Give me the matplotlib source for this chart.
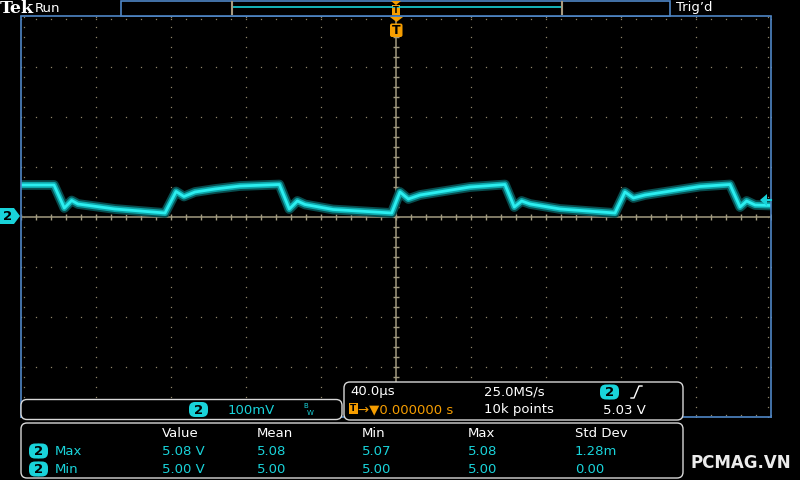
import numpy as np
import matplotlib.pyplot as plt
from matplotlib.patches import FancyBboxPatch, Polygon, Rectangle

# channel 2 trace: time (us) and voltage (V)
t_us = [-200, -182.4, -176.9, -173.0, -169.6, -149.9, -123.2, -117.3, -113.1, -107.2,
        -96.5, -83.2, -62.2, -56.9, -52.6, -48.5, -33.6, -2.3, 2.1, 6.6,
        12.8, 39.5, 58.1, 63.1, 67.0, 71.5, 87.5, 116.8, 122.1, 126.6,
        132.8, 162.1, 178.1, 183.5, 187.0, 191.5, 200]
volts = [5.063, 5.063, 5.017, 5.032, 5.025, 5.015, 5.007, 5.050, 5.040, 5.049,
         5.055, 5.061, 5.064, 5.015, 5.031, 5.024, 5.014, 5.007, 5.049, 5.035,
         5.043, 5.059, 5.064, 5.019, 5.031, 5.025, 5.015, 5.007, 5.049, 5.037,
         5.043, 5.060, 5.064, 5.019, 5.031, 5.023, 5.022]

trig_level = 5.03
headers = ['Value', 'Mean', 'Min', 'Max', 'Std Dev']
row_names = ['Max', 'Min']
row_vals = [['5.08 V', '5.08', '5.07', '5.08', '1.28m'],
            ['5.00 V', '5.00', '5.00', '5.00', '0.00']]

CYAN = '#19d3da'
ORANGE = '#f59d00'
BLUE = '#4f86c6'
GRID = '#8f8468'
CROSS = '#a39b80'

fig = plt.figure(figsize=(8, 4.8), dpi=100, facecolor='black')
ax = fig.add_axes([21/800, (480-416.5)/480, 750/800, 400/480])
ax.set_facecolor('black')
ax.set_xlim(-200, 200)
ax.set_ylim(4.6, 5.4)
ax.set_xticks([])
ax.set_yticks([])
for s in ax.spines.values():
    s.set_color(BLUE)
    s.set_linewidth(1.2)

# dotted graticule
for x in np.arange(-160, 161, 40):
    if x == 0:
        continue
    yy = np.arange(4.6, 5.401, 0.02)
    ax.plot([x]*len(yy), yy, ls='none', marker='s', ms=0.9, color=GRID, mew=0)
for y in np.arange(4.7, 5.31, 0.1):
    if abs(y - 5.0) < 1e-6:
        continue
    xx = np.arange(-200, 200.1, 8)
    ax.plot(xx, [y]*len(xx), ls='none', marker='s', ms=0.9, color=GRID, mew=0)

# center crosshair with minor ticks
ax.axhline(5.0, color=CROSS, lw=1.1)
ax.axvline(0, color=CROSS, lw=1.1)
xx = np.arange(-200, 200.1, 8)
ax.plot(xx, [5.0]*len(xx), ls='none', marker='|', ms=5, color=CROSS, mew=1)
yy = np.arange(4.6, 5.401, 0.02)
ax.plot([0]*len(yy), yy, ls='none', marker='_', ms=5, color=CROSS, mew=1)
# edge ticks
ax.plot(xx, [5.396]*len(xx), ls='none', marker='s', ms=0.9, color=GRID, mew=0)
ax.plot(xx, [4.604]*len(xx), ls='none', marker='s', ms=0.9, color=GRID, mew=0)
ax.plot([198.5]*len(yy), yy, ls='none', marker='s', ms=0.9, color=GRID, mew=0)
ax.plot([-198.5]*len(yy), yy, ls='none', marker='s', ms=0.9, color=GRID, mew=0)

# trace with phosphor glow
ax.plot(t_us, volts, color='#084c4e', lw=7.0, solid_joinstyle='round')
ax.plot(t_us, volts, color='#0ea5a9', lw=4.4, solid_joinstyle='round')
ax.plot(t_us, volts, color='#2ceef0', lw=2.0, solid_joinstyle='round')

# overlay in pixel coordinates
ui = fig.add_axes([0, 0, 1, 1])
ui.set_xlim(0, 800)
ui.set_ylim(480, 0)
ui.axis('off')
ui.patch.set_alpha(0)

def pill(x0, x1, yc, h=15, label='2'):
    ui.add_patch(FancyBboxPatch((x0 + h/2, yc - h/2), (x1 - x0) - h, h,
                                boxstyle='round,pad=0,rounding_size=%f' % (h/2),
                                mutation_aspect=1, fc=CYAN, ec='none'))
    ui.add_patch(FancyBboxPatch((x0 + 3, yc - h/2), (x1 - x0) - 6, h,
                                boxstyle='round,pad=0,rounding_size=6', fc=CYAN, ec='none'))
    ui.text((x0 + x1)/2, yc + 0.5, label, color='black', fontsize=9.5, fontweight='bold',
            ha='center', va='center')

def rbox(x0, y0, x1, y1):
    ui.add_patch(FancyBboxPatch((x0, y0), x1 - x0, y1 - y0,
                                boxstyle='round,pad=0,rounding_size=6',
                                fc='black', ec='#d8d8d8', lw=1.0))

# top bar
ui.text(0, 8.5, 'Tek', color='white', fontsize=12.5, fontweight='bold', family='DejaVu Serif',
        va='center', ha='left')
ui.text(35, 8, 'Run', color='white', fontsize=9.5, va='center', ha='left')
ui.add_patch(Rectangle((121, 0.5), 549, 15, fc='black', ec=BLUE, lw=1.2))
ui.plot([232, 562], [7, 7], color=CYAN, lw=1.2)
for bx in [232, 562]:
    ui.plot([bx, bx], [2, 14], color='#a89a80', lw=1.5)
ui.text(676, 8, "Trig\u2019d", color='white', fontsize=9.5, va='center', ha='left')
ui.add_patch(Polygon([[391, 1], [401, 1], [396, 5]], closed=True, fc=ORANGE, ec='none'))
ui.add_patch(Rectangle((392, 5), 8, 10, fc=ORANGE, ec='none'))
ui.text(396, 10.5, 'T', color='black', fontsize=6, fontweight='bold', ha='center', va='center')

# trigger position marker
ui.add_patch(Polygon([[390, 17], [403, 17], [396.5, 22]], closed=True, fc=ORANGE, ec='none'))
ui.add_patch(FancyBboxPatch((390, 23.5), 12.5, 13.5, boxstyle='round,pad=0,rounding_size=2',
                            fc=ORANGE, ec='none'))
ui.text(396.3, 31, 'T', color='black', fontsize=9, fontweight='bold', ha='center', va='center')

# channel ground marker and trigger level marker
ui.add_patch(Polygon([[0, 208], [14, 208], [20, 216], [14, 224], [0, 224]], closed=True,
                     fc=CYAN, ec='none'))
ui.text(8, 216.5, '2', color='black', fontsize=9.5, fontweight='bold', ha='center', va='center')
ui.add_patch(Polygon([[760, 200], [767, 194], [767, 206]], closed=True, fc=CYAN, ec='none'))
ui.plot([767, 771], [200, 200], color=CYAN, lw=1.5)

# channel info box
rbox(21, 399.5, 342, 419.5)
pill(186, 211, 409.5)
ui.text(228, 410, '100mV', color=CYAN, fontsize=9.5, va='center', ha='left')
ui.text(303, 406, 'B', color=CYAN, fontsize=5, va='center', ha='left')
ui.text(307, 413, 'W', color=CYAN, fontsize=5, va='center', ha='left')

# timebase box
rbox(344, 382, 683, 420)
ui.text(350, 392, '40.0\u00b5s', color='white', fontsize=9.5, va='center', ha='left')
ui.text(484, 392, '25.0MS/s', color='white', fontsize=9.5, va='center', ha='left')
pill(597, 622, 392)
ui.plot([631, 634, 639, 642], [398, 398, 386, 386], color='white', lw=1)
ui.add_patch(Rectangle((349, 403), 8.5, 11, fc=ORANGE, ec='none'))
ui.text(353.3, 408.7, 'T', color='black', fontsize=6.5, fontweight='bold', ha='center', va='center')
ui.text(358, 410, '\u2192\u25bc0.000000 s', color=ORANGE, fontsize=9.5, va='center', ha='left')
ui.text(484, 410, '10k points', color='white', fontsize=9.5, va='center', ha='left')
ui.text(603, 410, '%.2f V' % trig_level, color='white', fontsize=9.5, va='center', ha='left')

# measurement box
rbox(21, 423, 683, 478)
col_x = [162, 257, 362, 468, 575]
for cx, h in zip(col_x, headers):
    ui.text(cx, 433.5, h, color='white', fontsize=9.5, va='center', ha='left')
for r, (name, vals) in enumerate(zip(row_names, row_vals)):
    yc = 451 + 18 * r
    pill(26, 51, yc)
    ui.text(55, yc + 0.5, name, color=CYAN, fontsize=9.5, va='center', ha='left')
    for cx, v in zip(col_x, vals):
        ui.text(cx, yc + 0.5, v, color=CYAN, fontsize=9.5, va='center', ha='left')

ui.text(741, 463, 'PCMAG.VN', color='#ececec', fontsize=12, fontweight='bold',
        va='center', ha='center')

fig.savefig('out.png', dpi=100, facecolor='black')
